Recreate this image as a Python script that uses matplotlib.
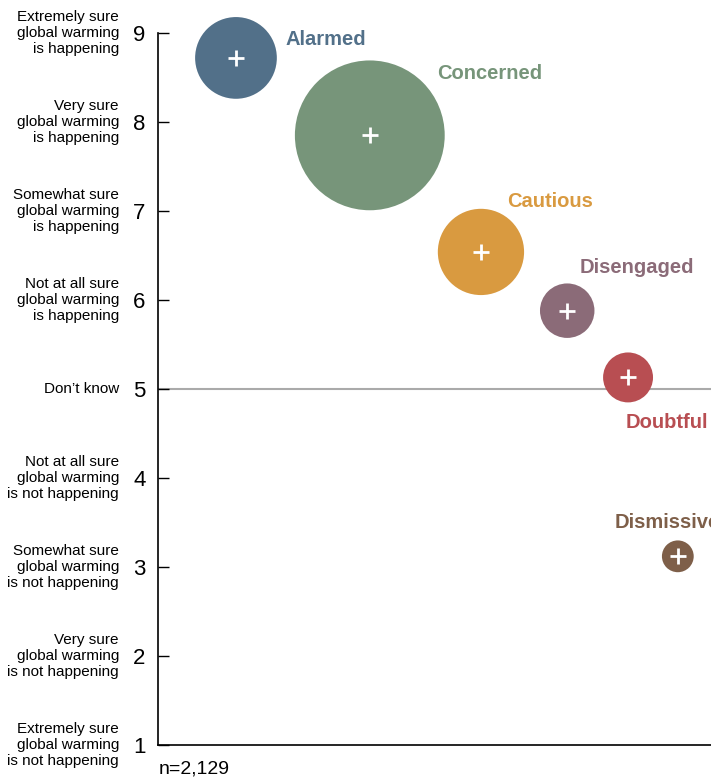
"""Global warming certainty by segment (Six Americas) bubble chart."""

import matplotlib

matplotlib.use("Agg")
import matplotlib.pyplot as plt
from matplotlib.transforms import blended_transform_factory

# segment data
SEGMENTS = ["Alarmed", "Concerned", "Cautious", "Disengaged", "Doubtful", "Dismissive"]
X_POS = [1.41, 3.83, 5.84, 7.40, 8.50, 9.40]
CERTAINTY = [8.72, 7.85, 6.54, 5.88, 5.13, 3.12]
SHARE = [18, 33, 19, 12, 11, 7]
COLORS = ["#527089", "#77957a", "#d99a40", "#8b6b78", "#b84e52", "#7e5f49"]

# label anchors (x, y) in data units, left-aligned
LABEL_X = [2.31, 5.05, 6.31, 7.63, 8.45, 8.26]
LABEL_Y = [8.93, 8.54, 7.11, 6.36, 4.62, 3.5]

TICKS = [9, 8, 7, 6, 5, 4, 3, 2, 1]
TICK_TEXT = [
    "Extremely sure\nglobal warming\nis happening",
    "Very sure\nglobal warming\nis happening",
    "Somewhat sure\nglobal warming\nis happening",
    "Not at all sure\nglobal warming\nis happening",
    "Don\u2019t know",
    "Not at all sure\nglobal warming\nis not happening",
    "Somewhat sure\nglobal warming\nis not happening",
    "Very sure\nglobal warming\nis not happening",
    "Extremely sure\nglobal warming\nis not happening",
]

plt.rcParams["font.family"] = ["Liberation Sans", "DejaVu Sans"]

fig = plt.figure(figsize=(7.11, 7.81), dpi=100)
ax = fig.add_axes([158 / 711, 36 / 781, 553 / 711, 712 / 781])
ax.set_xlim(0, 10)
ax.set_ylim(1, 9)

ax.axhline(5, color="#aaaaaa", linewidth=1.5, zorder=1)

# radius in pixels ~ 2.27 per percent -> diameter in points
sizes = [(s * 2 * 2.27 * 0.72) ** 2 for s in SHARE]
ax.scatter(X_POS, CERTAINTY, s=sizes, c=COLORS, linewidths=0, zorder=3, clip_on=False)
ax.scatter(X_POS, CERTAINTY, s=130, marker="+", color="white", linewidths=2,
           zorder=4, clip_on=False)

for name, lx, ly, col in zip(SEGMENTS, LABEL_X, LABEL_Y, COLORS):
    ax.text(lx, ly, name, color=col, fontsize=14.5, fontweight="bold",
            ha="left", va="center", clip_on=False)

ax.spines["top"].set_visible(False)
ax.spines["right"].set_visible(False)
ax.spines["left"].set_linewidth(1.2)
ax.spines["bottom"].set_linewidth(1.2)
ax.set_xticks([])
ax.set_yticks(TICKS)
ax.set_yticklabels([str(t) for t in TICKS], fontsize=16)
ax.tick_params(axis="y", direction="in", length=8, width=1, pad=9)

trans = blended_transform_factory(fig.transFigure, ax.transData)
for t, label in zip(TICKS, TICK_TEXT):
    ax.text(119 / 711, t, label, transform=trans, ha="right", va="center",
            fontsize=11, linespacing=1.22, clip_on=False)

fig.text(159 / 711, 1 - 769 / 781, "n=2,129", fontsize=14, ha="left", va="center")

fig.savefig("out.png", dpi=100)
